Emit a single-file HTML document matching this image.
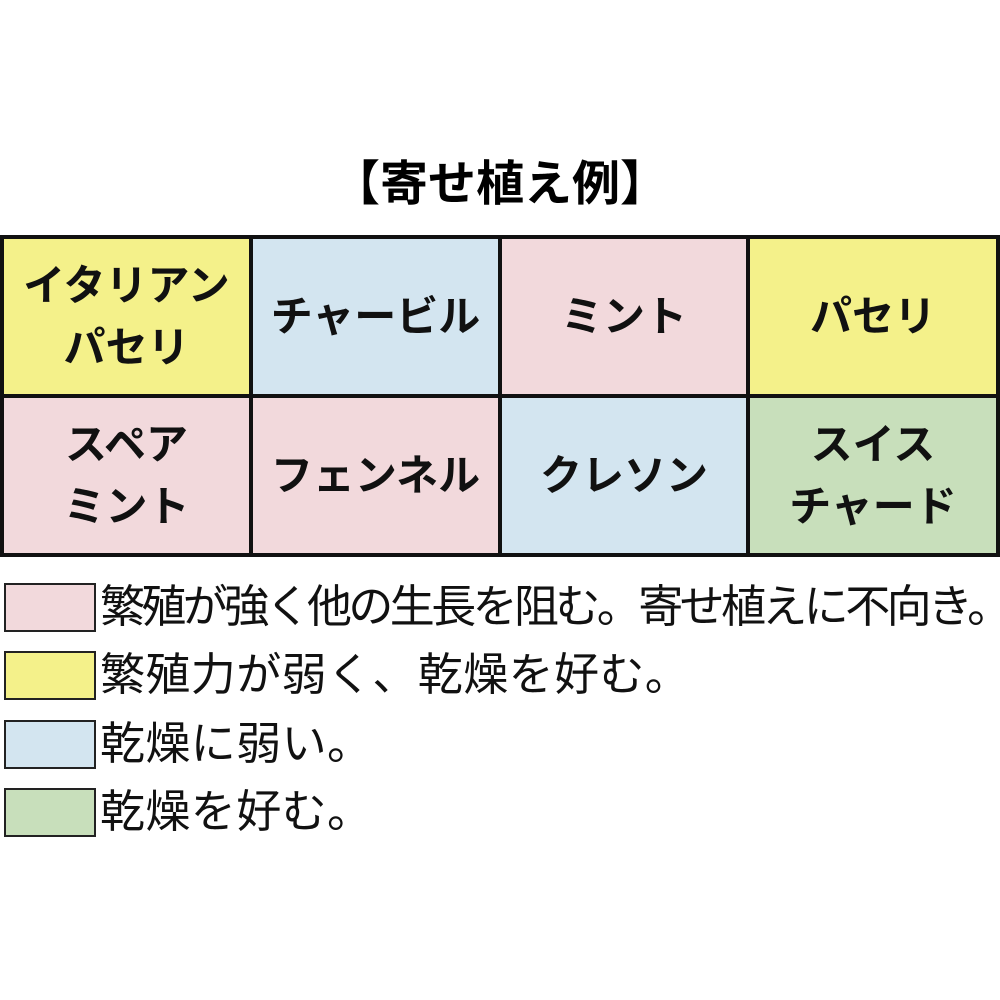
<!DOCTYPE html>
<html><head><meta charset="utf-8"><style>
body{margin:0;width:1000px;height:1000px;background:#fff;position:relative;overflow:hidden;font-family:"Liberation Sans","Noto Sans CJK JP",sans-serif}
.c{position:absolute;display:flex;align-items:center;justify-content:center;text-align:center;font-weight:bold;font-size:42px;line-height:62px;color:#111}
.l{position:absolute;background:#111}
.y{background:#f4f18a}.b{background:#d3e5f0}.p{background:#f2d9dc}.g{background:#c8dfbb}
.box{position:absolute;left:4px;width:88px;height:45px;border:2px solid #222}
.t{position:absolute;left:100px;font-size:45px;line-height:50px;color:#111;white-space:nowrap;letter-spacing:0.4px}
</style></head><body>
<div style="position:absolute;left:0;width:1000px;top:155px;text-align:center;font-weight:bold;font-size:48px;line-height:60px">【寄せ植え例】</div>

<div class="c y" style="left:4px;top:239px;width:245px;height:155px">イタリアン<br>パセリ</div>
<div class="c b" style="left:253px;top:239px;width:245px;height:155px">チャービル</div>
<div class="c p" style="left:502px;top:239px;width:244px;height:155px">ミント</div>
<div class="c y" style="left:750px;top:239px;width:246px;height:155px">パセリ</div>
<div class="c p" style="left:4px;top:398px;width:245px;height:155px">スペア<br>ミント</div>
<div class="c p" style="left:253px;top:398px;width:245px;height:155px">フェンネル</div>
<div class="c b" style="left:502px;top:398px;width:244px;height:155px">クレソン</div>
<div class="c g" style="left:750px;top:398px;width:246px;height:155px">スイス<br>チャード</div>

<div class="l" style="left:0;top:235px;width:1000px;height:4px"></div>
<div class="l" style="left:0;top:394px;width:1000px;height:4px"></div>
<div class="l" style="left:0;top:553px;width:1000px;height:4px"></div>
<div class="l" style="left:0;top:235px;width:4px;height:322px"></div>
<div class="l" style="left:249px;top:235px;width:4px;height:322px"></div>
<div class="l" style="left:498px;top:235px;width:4px;height:322px"></div>
<div class="l" style="left:746px;top:235px;width:4px;height:322px"></div>
<div class="l" style="left:996px;top:235px;width:4px;height:322px"></div>

<div class="box p" style="top:583px"></div>
<div class="t" style="top:582px;letter-spacing:-3.6px">繁殖が強く他の生長を阻む。寄せ植えに不向き。</div>
<div class="box y" style="top:651px"></div>
<div class="t" style="top:650px">繁殖力が弱く、乾燥を好む。</div>
<div class="box b" style="top:720px"></div>
<div class="t" style="top:719px">乾燥に弱い。</div>
<div class="box g" style="top:788px"></div>
<div class="t" style="top:787px">乾燥を好む。</div>
</body></html>
